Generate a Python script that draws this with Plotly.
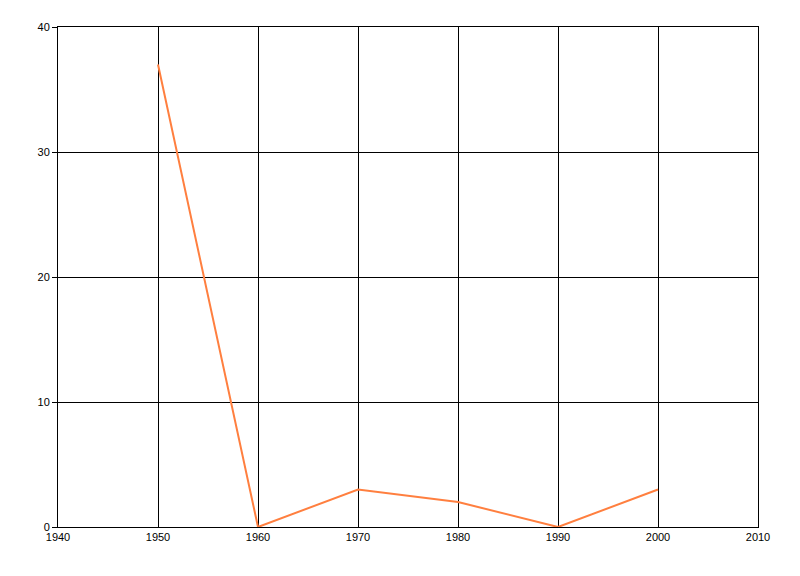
import plotly.graph_objects as go

years = [1950, 1960, 1970, 1980, 1990, 2000]
values = [37, 0, 3, 2, 0, 3]
x_ticks = [1940, 1950, 1960, 1970, 1980, 1990, 2000, 2010]
y_ticks = [0, 10, 20, 30, 40]

fig = go.Figure()
fig.add_trace(go.Scatter(x=years, y=values, mode="lines",
                         line=dict(color="#FF7F3F", width=2), showlegend=False))

fig.update_layout(
    width=800, height=576,
    margin=dict(l=50, r=50, t=19, b=57),
    paper_bgcolor="white", plot_bgcolor="white",
    font=dict(family="Liberation Sans, DejaVu Sans, sans-serif", size=11, color="black"),
)
fig.update_xaxes(range=[1940, 2010], tickvals=x_ticks, ticktext=[str(t) for t in x_ticks],
                 showgrid=True, gridcolor="black", gridwidth=1,
                 showline=True, linecolor="black", linewidth=1, mirror=True,
                 zeroline=False, ticks="", ticklen=0)
fig.update_yaxes(range=[0, 40], tickvals=y_ticks,
                 showgrid=True, gridcolor="black", gridwidth=1,
                 showline=True, linecolor="black", linewidth=1, mirror=True,
                 zeroline=False, ticks="outside", ticklen=5, tickcolor="black")

fig.write_html("out.html")
